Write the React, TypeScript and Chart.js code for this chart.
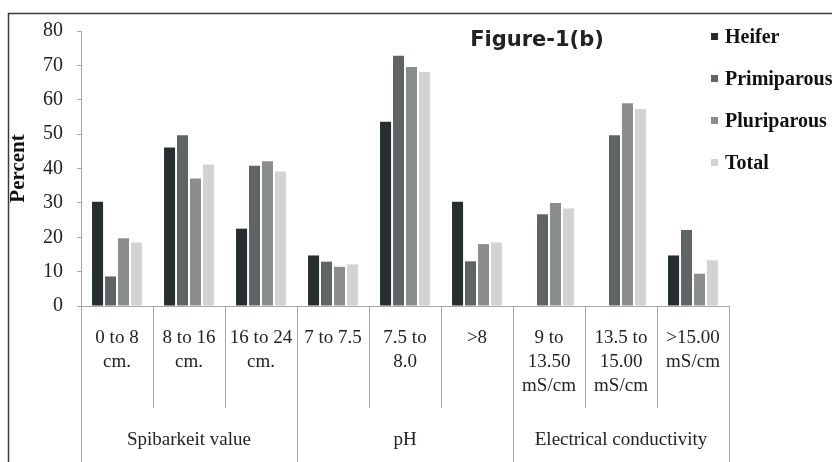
import React, { useEffect, useRef } from "react";
import { Chart, registerables } from "chart.js";

Chart.register(...registerables);

const categories: string[][] = [
  ["0 to 8", "cm."],
  ["8 to 16", "cm."],
  ["16 to 24", "cm."],
  ["7 to 7.5"],
  ["7.5 to", "8.0"],
  [">8"],
  ["9 to", "13.50", "mS/cm"],
  ["13.5 to", "15.00", "mS/cm"],
  [">15.00", "mS/cm"],
];

const groups = [
  { label: "Spibarkeit value", from: 0, to: 2 },
  { label: "pH", from: 3, to: 5 },
  { label: "Electrical conductivity", from: 6, to: 8 },
];

const heifer = [30.3, 46.1, 22.5, 14.7, 53.6, 30.3, 0, 0, 14.7];
const primiparous = [8.6, 49.7, 40.8, 12.9, 72.8, 13.0, 26.7, 49.7, 22.1];
const pluriparous = [19.7, 37.1, 42.1, 11.4, 69.5, 18.0, 30.0, 59.0, 9.4];
const total = [18.5, 41.2, 39.1, 12.1, 68.1, 18.5, 28.4, 57.3, 13.3];

const seriesNames = ["Heifer", "Primiparous", "Pluriparous", "Total"];
const seriesColors = ["#262e2f", "#5f6565", "#8c8e8e", "#d2d3d3"];

const yTicks = [0, 10, 20, 30, 40, 50, 60, 70, 80];

const SERIF = "'Liberation Serif', 'Times New Roman', serif";

const decorPlugin = {
  id: "decor",
  afterDraw(chart: any) {
    const ctx = chart.ctx;
    const x = chart.scales.x;
    const area = chart.chartArea;
    const n = chart.data.labels.length;
    const half = (x.getPixelForValue(1) - x.getPixelForValue(0)) / 2;
    ctx.save();
    // outer frame
    ctx.strokeStyle = "#3a3a3a";
    ctx.lineWidth = 1.5;
    ctx.beginPath();
    ctx.moveTo(8.5, 470);
    ctx.lineTo(8.5, 13.5);
    ctx.lineTo(900, 13.5);
    ctx.stroke();

    // separators
    ctx.strokeStyle = "#a8a8a8";
    ctx.lineWidth = 1;
    const groupEdges = new Set<number>();
    groups.forEach((g) => {
      groupEdges.add(g.from);
      groupEdges.add(g.to + 1);
    });
    for (let i = 0; i <= n; i++) {
      const px = Math.round(x.getPixelForValue(i) - half) + 0.5;
      const endY = groupEdges.has(i) ? 470 : 408;
      ctx.beginPath();
      ctx.moveTo(px, area.bottom);
      ctx.lineTo(px, endY);
      ctx.stroke();
    }
    // group labels
    ctx.fillStyle = "#222";
    ctx.font = `19px ${SERIF}`;
    ctx.textAlign = "center";
    ctx.textBaseline = "middle";
    groups.forEach((g) => {
      const cx = (x.getPixelForValue(g.from) + x.getPixelForValue(g.to)) / 2;
      ctx.fillText(g.label, cx, 440);
    });

    // title
    ctx.font = "bold 21px 'DejaVu Sans', Verdana, sans-serif";
    ctx.fillStyle = "#222";
    ctx.textAlign = "center";
    ctx.fillText("Figure-1(b)", 537, 41);

    // legend
    ctx.textAlign = "left";
    ctx.font = `bold 20px ${SERIF}`;
    chart.data.datasets.forEach((ds: any, i: number) => {
      const cy = 37 + i * 42;
      ctx.fillStyle = ds.backgroundColor;
      ctx.fillRect(711, cy - 4, 7, 7);
      ctx.fillStyle = "#111";
      ctx.fillText(ds.label, 725, cy + 1);
    });
    ctx.restore();
  },
};

export default function App() {
  const ref = useRef<HTMLCanvasElement | null>(null);
  useEffect(() => {
    if (!ref.current) return;
    const chart = new Chart(ref.current, {
      type: "bar",
      data: {
        labels: categories,
        datasets: [heifer, primiparous, pluriparous, total].map((d, i) => ({
          label: seriesNames[i],
          data: d,
          backgroundColor: seriesColors[i],
          borderWidth: 0,
          categoryPercentage: 0.72,
          barPercentage: 0.85,
        })),
      },
      options: {
        animation: false,
        responsive: true,
        maintainAspectRatio: false,
        devicePixelRatio: 1,
        layout: { padding: { left: 0, top: 31, right: 103, bottom: 0 } },
        plugins: {
          legend: { display: false },
          tooltip: { enabled: false },
          title: { display: false },
        },
        scales: {
          x: {
            grid: { display: false, drawTicks: false },
            border: { display: true, color: "#a8a8a8", width: 1 },
            ticks: {
              color: "#222",
              font: { family: SERIF, size: 19, lineHeight: "24px" } as any,
              padding: 20,
              maxRotation: 0,
              autoSkip: false,
            },
            afterFit: (s: any) => {
              s.height = 156;
            },
          },
          y: {
            min: 0,
            max: 80,
            afterBuildTicks: (s: any) => {
              s.ticks = yTicks.map((v) => ({ value: v }));
            },
            grid: {
              drawOnChartArea: false,
              drawTicks: true,
              tickLength: 4,
              color: "#a8a8a8",
            },
            border: { display: true, color: "#a8a8a8", width: 1 },
            ticks: {
              color: "#222",
              font: { family: SERIF, size: 20 },
              padding: 14,
            },
            title: {
              display: true,
              text: "Percent",
              color: "#111",
              font: { family: SERIF, size: 21, weight: "bold", lineHeight: 1.2 },
              padding: { top: 6, bottom: 0 },
            },
            afterFit: (s: any) => {
              s.width = 81;
            },
          },
        },
      },
      plugins: [decorPlugin],
    });
    return () => chart.destroy();
  }, []);
  return (
    <div
      style={{
        position: "fixed",
        left: 0,
        top: 0,
        width: 832,
        height: 462,
        overflow: "hidden",
        background: "#fff",
      }}
    >
      <canvas ref={ref} />
    </div>
  );
}
